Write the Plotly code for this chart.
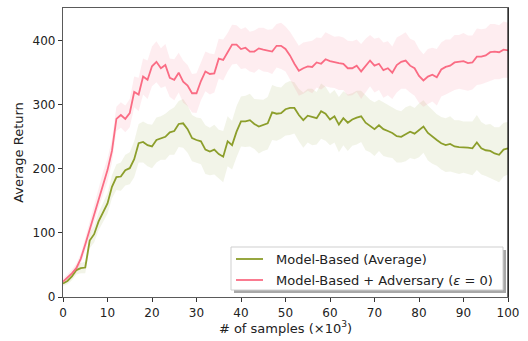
import plotly.graph_objects as go

samples = list(range(0, 101))

model_based = [21, 25, 32, 42, 45, 46, 88, 98, 118, 132, 146,
               172, 187, 188, 198, 201, 215, 240, 242, 237, 235,
               245, 248, 250, 257, 259, 270, 271, 262, 248, 245,
               243, 230, 227, 230, 223, 219, 243, 237, 258, 274,
               274, 276, 270, 266, 268, 271, 288, 286, 287, 293,
               295, 295, 284, 276, 283, 281, 279, 290, 286, 277,
               282, 269, 279, 272, 277, 280, 282, 272, 267, 262,
               268, 262, 259, 256, 251, 250, 254, 258, 255, 260,
               266, 256, 250, 245, 240, 237, 239, 235, 234, 234,
               233, 232, 241, 232, 229, 228, 224, 222, 230, 232]

model_based_std = [4, 5, 6, 7, 8, 9, 12, 13, 14, 15, 16,
                   18, 20, 22, 24, 25, 28, 30, 32, 33, 34,
                   35, 34, 36, 35, 37, 36, 38, 37, 36, 35,
                   36, 38, 37, 39, 38, 40, 39, 38, 40, 39,
                   40, 41, 39, 42, 40, 41, 43, 42, 40, 41,
                   42, 40, 41, 43, 42, 44, 41, 43, 42, 40,
                   41, 43, 42, 44, 41, 42, 40, 43, 41, 42,
                   40, 42, 41, 39, 41, 40, 42, 41, 40, 42,
                   41, 43, 42, 40, 41, 42, 43, 41, 42, 40,
                   41, 42, 43, 41, 40, 42, 41, 43, 42, 41]

adversary = [24, 30, 37, 45, 60, 82, 105, 130, 155, 178, 198,
             228, 278, 284, 278, 287, 320, 316, 344, 339, 360,
             367, 357, 362, 342, 339, 350, 336, 330, 318, 318,
             337, 352, 348, 349, 372, 370, 382, 394, 394, 387,
             389, 383, 383, 388, 386, 384, 383, 392, 392, 387,
             377, 364, 353, 357, 360, 359, 366, 364, 371, 368,
             366, 365, 364, 357, 357, 361, 352, 361, 369, 361,
             364, 354, 357, 350, 362, 367, 369, 361, 357, 345,
             338, 344, 347, 343, 355, 359, 361, 366, 367, 368,
             365, 366, 375, 375, 377, 382, 383, 382, 386, 385]

adversary_std = [4, 5, 6, 7, 8, 10, 12, 14, 16, 17, 18,
                 18, 19, 20, 21, 22, 24, 26, 28, 30, 31,
                 32, 31, 33, 30, 32, 31, 33, 32, 30, 31,
                 30, 31, 32, 30, 31, 32, 30, 31, 30, 31,
                 32, 31, 33, 32, 34, 33, 35, 34, 36, 35,
                 37, 38, 39, 40, 38, 41, 39, 40, 42, 41,
                 40, 42, 41, 43, 42, 41, 43, 42, 40, 42,
                 41, 43, 42, 41, 43, 42, 44, 42, 43, 42,
                 41, 43, 42, 44, 42, 43, 41, 43, 42, 44,
                 43, 42, 44, 43, 42, 44, 43, 42, 44, 43]

series_names = ["Model-Based (Average)",
                "Model-Based + Adversary (<i>ε</i> = 0)"]

x_ticks = [0, 10, 20, 30, 40, 50, 60, 70, 80, 90, 100]
y_ticks = [0, 100, 200, 300, 400]

GREEN = "#8c9e2b"
PINK = "#fa6c84"
GREEN_FILL = "rgba(140,158,43,0.11)"
PINK_FILL = "rgba(250,108,132,0.12)"

fig = go.Figure()

def add_band(mean, std, fill):
    hi = [m + s for m, s in zip(mean, std)]
    lo = [m - s for m, s in zip(mean, std)]
    fig.add_trace(go.Scatter(x=samples, y=hi, mode="lines", line=dict(width=0),
                             showlegend=False, hoverinfo="skip"))
    fig.add_trace(go.Scatter(x=samples, y=lo, mode="lines", line=dict(width=0),
                             fill="tonexty", fillcolor=fill, showlegend=False,
                             hoverinfo="skip"))

add_band(model_based, model_based_std, GREEN_FILL)
add_band(adversary, adversary_std, PINK_FILL)

fig.add_trace(go.Scatter(x=samples, y=model_based, mode="lines",
                         line=dict(color=GREEN, width=1.8),
                         name=series_names[0], showlegend=False))
fig.add_trace(go.Scatter(x=samples, y=adversary, mode="lines",
                         line=dict(color=PINK, width=1.8),
                         name=series_names[1], showlegend=False))

L, R, T, B = 63, 20, 8, 44
W, H = 528, 341
pw, ph = W - L - R, H - T - B

def px(xp):
    return (xp - L) / pw

def py(yp):
    return (H - B - yp) / ph

# legend (drawn as shapes + text to match the framed, shadowed box)
box_l, box_r, box_t, box_b = 231, 503, 247, 290
fig.add_shape(type="rect", xref="paper", yref="paper",
              x0=px(box_l + 3), x1=px(box_r + 3), y0=py(box_b + 3), y1=py(box_t + 3),
              fillcolor="#a8a8a8", line=dict(width=0), layer="above")
fig.add_shape(type="rect", xref="paper", yref="paper",
              x0=px(box_l), x1=px(box_r), y0=py(box_b), y1=py(box_t),
              fillcolor="white", line=dict(color="#cfcfcf", width=1), layer="above")
for i, (name, color) in enumerate(zip(series_names, [GREEN, PINK])):
    yy = 259 + 21 * i
    fig.add_shape(type="line", xref="paper", yref="paper",
                  x0=px(236), x1=px(263), y0=py(yy), y1=py(yy),
                  line=dict(color=color, width=1.8), layer="above")
    fig.add_annotation(xref="paper", yref="paper", x=px(274), y=py(yy),
                       xanchor="left", yanchor="middle", showarrow=False,
                       text=name, font=dict(size=13, family="DejaVu Sans",
                                            color="#222222"))

# right spine in black
fig.add_shape(type="line", xref="paper", yref="paper", x0=1, x1=1, y0=0, y1=1,
              line=dict(color="#111111", width=1.2), layer="above")

fig.update_layout(
    width=W, height=H,
    margin=dict(l=L, r=R, t=T, b=B),
    paper_bgcolor="white", plot_bgcolor="white",
    font=dict(family="DejaVu Sans", size=12, color="#222222"),
    showlegend=False,
    xaxis=dict(range=[0, 100], tickvals=x_ticks, ticks="outside", ticklen=4,
               tickcolor="#333333", showgrid=False, zeroline=False,
               showline=True, linecolor="#5a5a5a", linewidth=1.2, mirror=True,
               tickfont=dict(size=12),
               title=dict(text="# of samples (×10<sup>3</sup>)", standoff=3,
                          font=dict(size=13))),
    yaxis=dict(range=[0, 451], tickvals=y_ticks, ticks="outside", ticklen=4,
               tickcolor="#333333", showgrid=False, zeroline=False,
               showline=True, linecolor="#5a5a5a", linewidth=1.2, mirror=True,
               tickfont=dict(size=12),
               title=dict(text="Average Return", standoff=6,
                          font=dict(size=13))),
)

fig.write_html("out.html")
